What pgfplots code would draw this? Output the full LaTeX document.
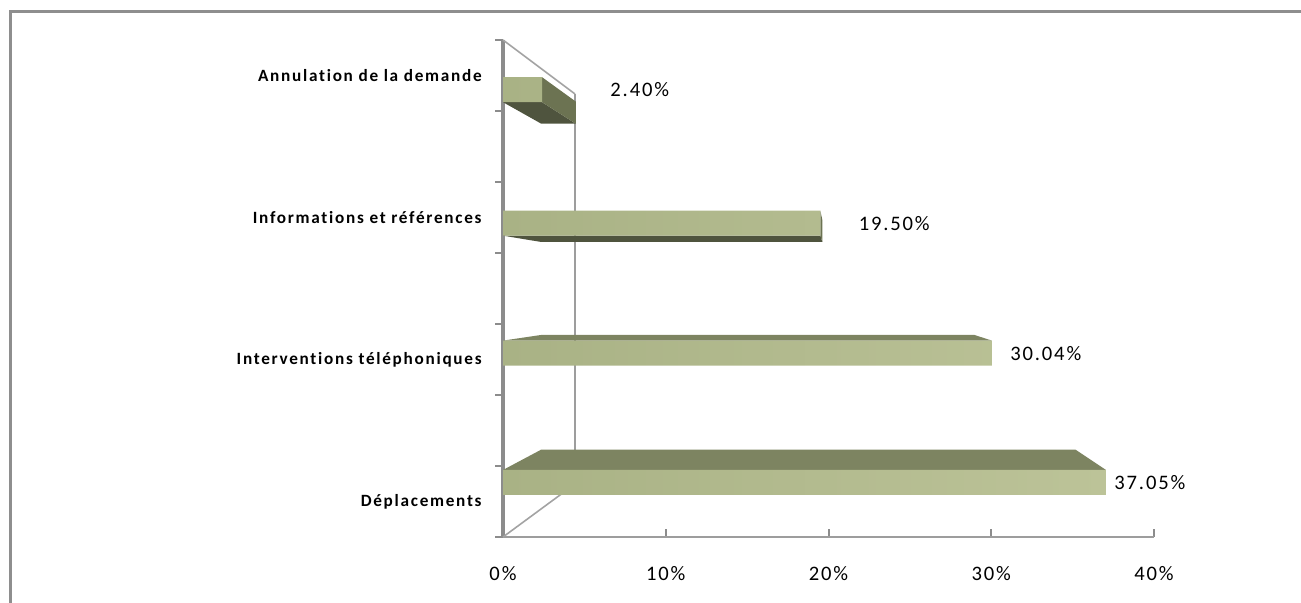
\documentclass[border=0pt]{standalone}
\usepackage{pgfplots}
\pgfplotsset{compat=1.18}
\usepackage{fontspec}
\setmainfont{Carlito}
\newfontfamily\numfont[LetterSpace=9]{Carlito}
\newfontfamily\catfont[LetterSpace=10,Ligatures=NoCommon]{Carlito}

\definecolor{barA}{HTML}{A9B285}
\definecolor{barB}{HTML}{BCC398}
\definecolor{topface}{HTML}{7D8461}
\definecolor{sideface}{HTML}{6C7352}
\definecolor{bottomface}{HTML}{4F543E}
\definecolor{frameg}{HTML}{8E8E8E}
\definecolor{axisg}{HTML}{8C8C8C}

\begin{document}
\begin{tikzpicture}
\path[use as bounding box] (0,0) rectangle (650.5pt,301.5pt);
% chart frame
\draw[frameg, line width=1.5pt] (5pt,-2pt) -- (5pt,295.5pt) -- (653pt,295.5pt);

\begin{axis}[
  at={(251.5pt,33pt)}, anchor=south west,
  width=325.5pt, height=248.5pt, scale only axis,
  xmin=0, xmax=40, ymin=0, ymax=7,
  clip=false,
  axis x line*=bottom, axis y line*=left,
  x axis line style={axisg!85, line width=1.1pt, -},
  y axis line style={axisg, line width=1.6pt, -},
  major tick length=4pt,
  xtick={0,10,20,30,40},
  xticklabels={0\%,10\%,20\%,30\%,40\%},
  xtick style={axisg, line width=1pt},
  xticklabel style={font=\numfont\fontsize{10.3pt}{12pt}\selectfont, anchor=base, yshift=-22pt},
  ytick={0,1,...,7},
  yticklabels={},
  ytick style={axisg, line width=1.2pt, xshift=-4pt},
  extra y ticks={0.5,2.5,4.5,6.5},
  extra y tick labels={Déplacements,Interventions téléphoniques,Informations et références,Annulation de la demande},
  extra y tick style={tick style={draw=none}},
  yticklabel style={font=\catfont\bfseries\fontsize{8.6pt}{10pt}\selectfont, anchor=east, inner sep=0pt, xshift=-10.5pt},
]

% back wall and floor edges of the box
\addplot[axisg!80, line width=0.8pt] coordinates {(0,7) (4.42,6.24)};
\addplot[axisg!80, line width=0.8pt] coordinates {(0,0) (4.42,0.746)};
\addplot[axisg!85, line width=1.2pt] coordinates {(4.42,0.746) (4.42,6.24)};

% depth faces of the bars
\addplot[draw=none, fill=topface] coordinates {(0,0.944) (37.05,0.944) (35.17,1.231) (2.35,1.231)} -- cycle;
\addplot[draw=none, fill=topface] coordinates {(0,2.766) (30.04,2.766) (28.96,2.846) (2.35,2.846)} -- cycle;
\addplot[draw=none, fill=bottomface] coordinates {(0,4.244) (19.5,4.244) (19.62,4.155) (2.35,4.155)} -- cycle;
\addplot[draw=none, fill=sideface] coordinates {(19.5,4.244) (19.5,4.596) (19.62,4.467) (19.62,4.155)} -- cycle;
\addplot[draw=none, fill=bottomface] coordinates {(0,6.124) (2.40,6.124) (4.47,5.821) (2.35,5.821)} -- cycle;
\addplot[draw=none, fill=sideface] coordinates {(2.40,6.124) (2.40,6.476) (4.47,6.133) (4.47,5.821)} -- cycle;

% front faces with value labels
\addplot[xbar, bar width=0.352, draw=none, left color=barA, right color=barB,
  point meta=x,
  visualization depends on={\thisrow{dx} \as \dx},
  nodes near coords={\pgfmathprintnumber[fixed,fixed zerofill,precision=2,assume math mode=true]{\pgfplotspointmeta}\%},
  every node near coord/.append style={anchor=west, inner sep=0pt, xshift=\dx pt, text=black,
    font=\numfont\fontsize{10.3pt}{12pt}\selectfont},
] table {
x y dx
37.05 0.768 4
30.04 2.59 9
19.50 4.42 19
2.40 6.30 34
};
\end{axis}
\end{tikzpicture}
\end{document}
